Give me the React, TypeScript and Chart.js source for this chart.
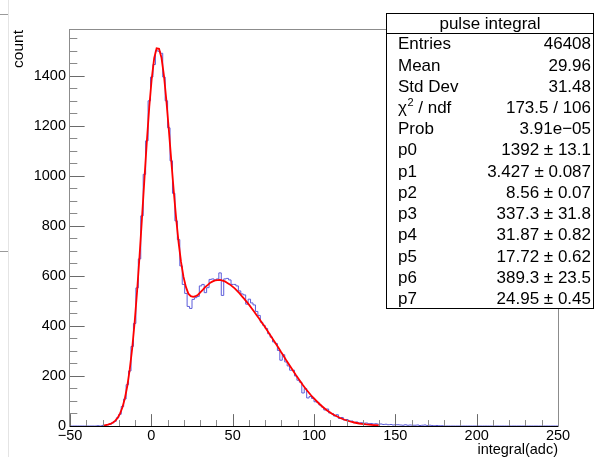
import React, { useEffect, useRef } from 'react';
import { Chart, registerables } from 'chart.js';

Chart.register(...registerables);

// ---- histogram definition ----
const X_MIN = -50;
const X_MAX = 250;
const N_BINS = 200;
const Y_MAX = 1583;

// bin contents, 200 bins of width 1.5 from -50 to 250
const counts = [
  0, 0, 0, 0, 0, 0, 0, 0, 0, 0,
  0, 1, 0, 2, 3, 5, 7, 13, 19, 33,
  47, 78, 108, 165, 220, 318, 410, 552, 668, 840,
  1006, 1140, 1300, 1395, 1445, 1500, 1498, 1490, 1395, 1300,
  1192, 1060, 930, 820, 745, 640, 566, 530, 478, 470,
  506, 513, 518, 560, 566, 533, 553, 586, 588, 584,
  588, 612, 522, 588, 590, 584, 566, 566, 560, 540,
  528, 524, 487, 507, 492, 484, 458, 442, 415, 402,
  390, 369, 355, 336, 330, 302, 263, 285, 256, 240,
  223, 223, 200, 183, 175, 132, 150, 112, 118, 110,
  97, 95, 84, 76, 64, 68, 52, 50, 40, 45,
  30, 34, 24, 26, 20, 20, 13, 16, 12, 13,
  11, 12, 9, 10, 8, 9, 7, 8, 6, 7,
  5, 6, 4, 5, 5, 4, 3, 5, 3, 4,
  3, 3, 4, 2, 3, 4, 2, 3, 2, 1,
  2, 1, 1, 0, 0, 0, 0, 0, 0, 0,
  0, 0, 0, 0, 0, 0, 0, 0, 0, 0,
  0, 0, 0, 0, 0, 0, 0, 0, 0, 0,
  0, 0, 0, 0, 0, 0, 0, 0, 0, 0,
  0, 0, 0, 0, 0, 0, 0, 0, 0, 0,
];

// fit curve, sampled at the centres of bins 13 .. 126
const FIT_FIRST_BIN = 13;
const fitValues = [
  2.1, 3.3, 5.1, 8.1, 12.8, 20.4, 31.9, 49.4, 74.9, 111,
  161, 227, 311, 415, 539, 679, 831, 987, 1139, 1277,
  1389, 1470, 1510, 1508, 1472, 1401, 1301, 1185, 1062, 941,
  830, 734, 656, 597, 556, 529, 519, 516, 519, 525,
  535, 545, 556, 564, 573, 578, 582, 583, 584, 581,
  578, 572, 566, 558, 550, 540, 530, 518, 507, 495,
  483, 470, 457, 443, 430, 415, 402, 387, 372, 357,
  342, 327, 312, 296, 281, 265, 250, 235, 220, 205,
  191, 177, 163, 150, 138, 126, 115, 105, 95, 86,
  77, 69, 61, 55, 48, 43, 38, 33, 29, 25,
  22, 19, 16, 14, 12, 10, 8.6, 7.3, 6.1, 5.2,
  4.3, 3.6, 3.0, 2.5,
];

const xTickValues = [-50, 0, 50, 100, 150, 200, 250];
const yTickValues = [0, 200, 400, 600, 800, 1000, 1200, 1400];

const statsTitle = 'pulse integral';
const statsLabels = ['Entries', 'Mean', 'Std Dev', 'CHI2', 'Prob', 'p0', 'p1', 'p2', 'p3', 'p4', 'p5', 'p6', 'p7'];
const statsValues = [
  '46408', '29.96', '31.48', '173.5 / 106', '3.91e\u221205',
  '1392 \u00b1 13.1', '3.427 \u00b1 0.087', '8.56 \u00b1 0.07', '337.3 \u00b1 31.8',
  '31.87 \u00b1 0.82', '17.72 \u00b1 0.62', '389.3 \u00b1 23.5', '24.95 \u00b1 0.45',
];

const xTitle = 'integral(adc)';
const yTitle = 'count';

const FONT = "'Liberation Sans', Arial, Helvetica, sans-serif";

export default function App() {
  const ref = useRef<HTMLCanvasElement | null>(null);

  useEffect(() => {
    document.body.style.margin = '0';
    const canvas = ref.current;
    if (!canvas) return;

    const binW = (X_MAX - X_MIN) / N_BINS;
    const histPts = counts.map((c, i) => ({ x: X_MIN + i * binW, y: c }));
    histPts.push({ x: X_MAX, y: counts[counts.length - 1] });
    const fitPts = fitValues.map((v, k) => ({ x: X_MIN + (FIT_FIRST_BIN + k + 0.5) * binW, y: v }));

    const rootPlugin = {
      id: 'rootStyle',
      beforeDraw(chart: any) {
        const ctx = chart.ctx;
        ctx.save();
        ctx.fillStyle = '#ffffff';
        ctx.fillRect(0, 0, chart.width, chart.height);
        ctx.restore();
      },
      afterDatasetsDraw(chart: any) {
        const ctx = chart.ctx;
        const a = chart.chartArea;
        const xs = chart.scales.x;
        const ys = chart.scales.y;
        ctx.save();
        // y ticks (inside)
        const ylenMaj = 0.03 * (a.right - a.left);
        for (let v = 0; v <= ys.max; v += 50) {
          const py = Math.round(ys.getPixelForValue(v)) + 0.5;
          const major = v % 200 === 0;
          ctx.strokeStyle = major ? '#6a6a6a' : '#8a8a8a';
          ctx.lineWidth = 1;
          ctx.beginPath();
          ctx.moveTo(a.left, py);
          ctx.lineTo(a.left + (major ? ylenMaj : ylenMaj / 2), py);
          ctx.stroke();
        }
        // x ticks (inside)
        const xlenMaj = 0.03 * (a.bottom - a.top);
        for (let v = X_MIN; v <= X_MAX; v += 10) {
          const px = Math.round(xs.getPixelForValue(v)) + 0.5;
          const major = v % 50 === 0;
          ctx.strokeStyle = major ? '#6a6a6a' : '#8a8a8a';
          ctx.beginPath();
          ctx.moveTo(px, a.bottom);
          ctx.lineTo(px, a.bottom - (major ? xlenMaj : xlenMaj / 2));
          ctx.stroke();
        }
        // frame
        ctx.strokeStyle = '#8c8c8c';
        ctx.lineWidth = 1;
        ctx.strokeRect(a.left - 0.5, a.top - 0.5, a.right - a.left + 1, a.bottom - a.top + 1);
        ctx.strokeStyle = '#000000';
        ctx.beginPath();
        ctx.moveTo(a.left, a.bottom + 0.5);
        ctx.lineTo(a.right, a.bottom + 0.5);
        ctx.stroke();
        ctx.restore();
      },
      afterDraw(chart: any) {
        const ctx = chart.ctx;
        const a = chart.chartArea;
        ctx.save();
        // stray lines at the far left
        ctx.strokeStyle = '#e4e4e4';
        ctx.lineWidth = 1;
        ctx.beginPath();
        ctx.moveTo(8.5, 0);
        ctx.lineTo(8.5, chart.height);
        ctx.stroke();
        ctx.strokeStyle = '#9a9a9a';
        ctx.beginPath();
        ctx.moveTo(0, 14.5);
        ctx.lineTo(8, 14.5);
        ctx.moveTo(0, 251.5);
        ctx.lineTo(8, 251.5);
        ctx.stroke();

        // axis titles
        ctx.fillStyle = '#000';
        ctx.font = `14.5px ${FONT}`;
        ctx.textAlign = 'right';
        ctx.textBaseline = 'alphabetic';
        ctx.fillText(xTitle, a.right, 454);
        ctx.save();
        ctx.translate(23, a.top);
        ctx.rotate(-Math.PI / 2);
        ctx.font = `15.5px ${FONT}`;
        ctx.textAlign = 'right';
        ctx.fillText(yTitle, 0, 0);
        ctx.restore();

        // stats box
        const bx = 386, by = 13, bw = 208, bh = 296;
        const titleH = 20;
        const rowH = (bh - titleH) / statsLabels.length;
        ctx.fillStyle = '#fff';
        ctx.fillRect(bx, by, bw, bh);
        ctx.strokeStyle = '#000';
        ctx.lineWidth = 1;
        ctx.strokeRect(bx + 0.5, by + 0.5, bw - 1, bh - 1);
        ctx.beginPath();
        ctx.moveTo(bx, by + titleH + 0.5);
        ctx.lineTo(bx + bw, by + titleH + 0.5);
        ctx.stroke();
        ctx.fillStyle = '#000';
        ctx.font = `17px ${FONT}`;
        ctx.textBaseline = 'middle';
        ctx.textAlign = 'center';
        ctx.fillText(statsTitle, bx + bw / 2, by + titleH / 2 + 1);
        const lx = 398, rx = 591;
        statsLabels.forEach((lab, k) => {
          const y = by + titleH + rowH * (k + 0.5) + 1;
          ctx.textAlign = 'left';
          ctx.font = `17px ${FONT}`;
          if (lab === 'CHI2') {
            ctx.fillText('\u03c7', lx, y);
            const w1 = ctx.measureText('\u03c7').width;
            ctx.font = `11px ${FONT}`;
            ctx.fillText('2', lx + w1 + 0.5, y - 5.5);
            const w2 = ctx.measureText('2').width;
            ctx.font = `17px ${FONT}`;
            ctx.fillText(' / ndf', lx + w1 + w2 + 0.5, y);
          } else {
            ctx.fillText(lab, lx, y);
          }
          ctx.textAlign = 'right';
          ctx.fillText(statsValues[k], rx, y);
        });
        ctx.restore();
      },
    };

    const chart = new Chart(canvas, {
      type: 'line',
      data: {
        datasets: [
          {
            data: histPts,
            stepped: true,
            borderColor: 'rgb(92,92,218)',
            borderWidth: 1,
            pointRadius: 0,
            fill: false,
            order: 2,
          },
          {
            data: fitPts,
            borderColor: '#ff0000',
            borderWidth: 1.8,
            pointRadius: 0,
            tension: 0,
            fill: false,
            order: 1,
          },
        ],
      },
      options: {
        animation: false,
        responsive: false,
        events: [],
        layout: { padding: { top: 30, right: 37, left: 0, bottom: 0 } },
        plugins: { legend: { display: false }, tooltip: { enabled: false }, title: { display: false } },
        scales: {
          x: {
            type: 'linear',
            min: X_MIN,
            max: X_MAX,
            grid: { display: false, drawTicks: false },
            border: { display: false },
            ticks: {
              autoSkip: false,
              maxRotation: 0,
              padding: 1,
              color: '#000',
              font: { family: FONT, size: 14.5 },
              callback: (v: any) => (Number(v) < 0 ? '\u2212' + Math.abs(Number(v)) : String(v)),
            },
            afterBuildTicks: (s: any) => {
              s.ticks = xTickValues.map((v) => ({ value: v }));
            },
            afterFit: (s: any) => {
              s.height = 31;
            },
          },
          y: {
            type: 'linear',
            min: 0,
            max: Y_MAX,
            grid: { display: false, drawTicks: false },
            border: { display: false },
            ticks: {
              padding: 4,
              color: '#000',
              font: { family: FONT, size: 14.5 },
              callback: (v: any) => String(v),
            },
            afterBuildTicks: (s: any) => {
              s.ticks = yTickValues.map((v) => ({ value: v }));
            },
            afterFit: (s: any) => {
              s.width = 70;
            },
          },
        },
      },
      plugins: [rootPlugin],
    });

    return () => chart.destroy();
  }, []);

  return (
    <div style={{ position: 'fixed', left: 0, top: 0, width: 595, height: 457, background: '#fff' }}>
      <canvas ref={ref} width={595} height={457} style={{ width: 595, height: 457, display: 'block' }} />
    </div>
  );
}
